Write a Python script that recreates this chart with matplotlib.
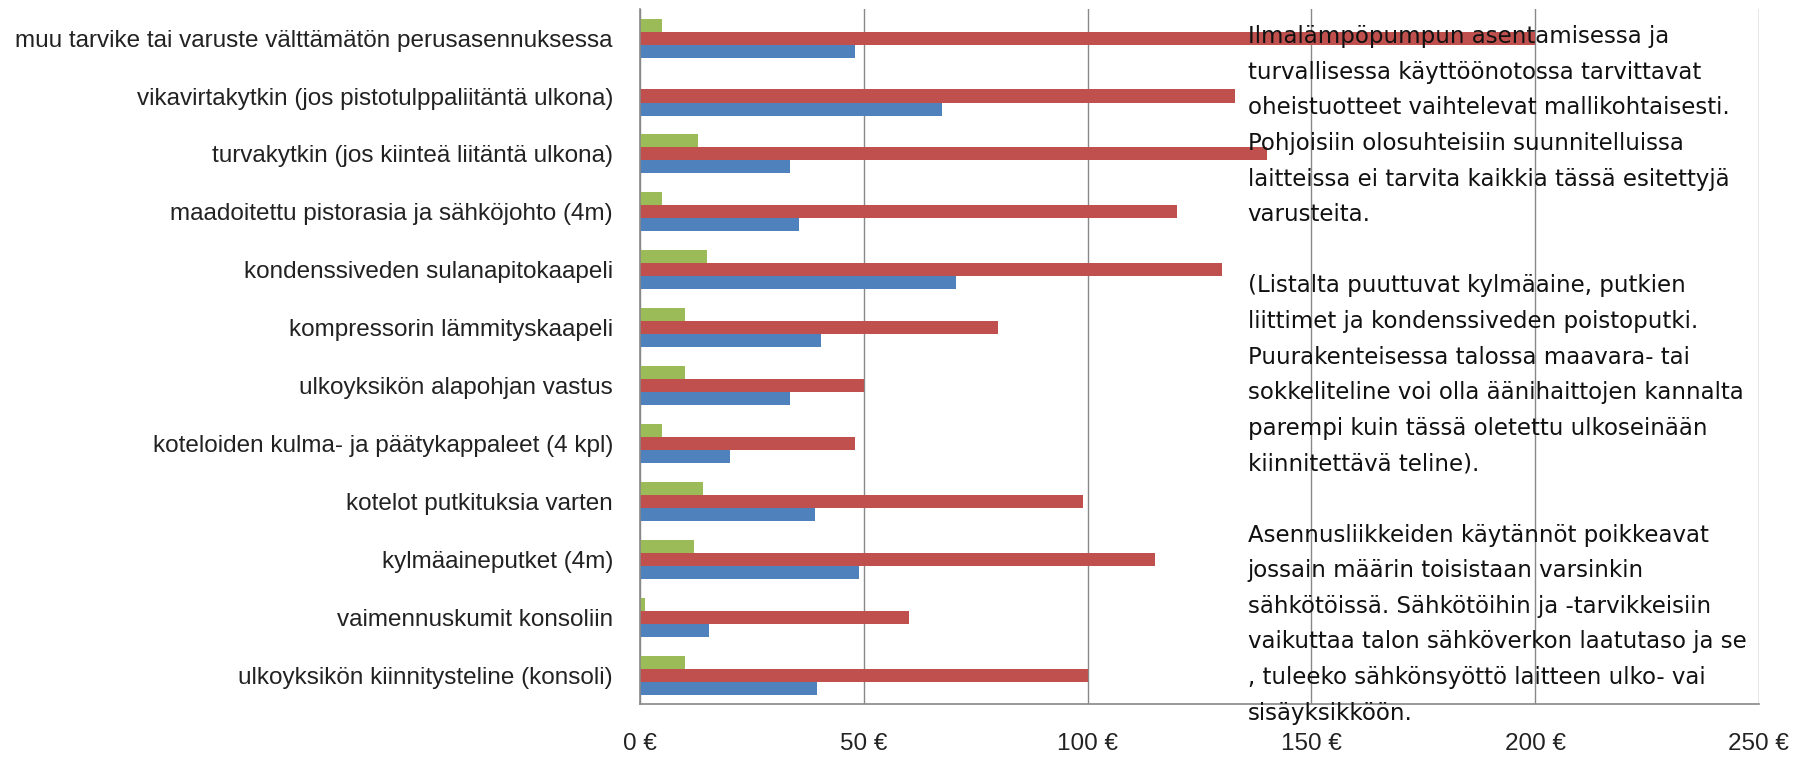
import numpy as np
import matplotlib
matplotlib.use("Agg")
from matplotlib import pyplot as plt
from matplotlib import font_manager

# categories, top to bottom as in the picture
categories = [
    "muu tarvike tai varuste välttämätön perusasennuksessa",
    "vikavirtakytkin (jos pistotulppaliitäntä ulkona)",
    "turvakytkin (jos kiinteä liitäntä ulkona)",
    "maadoitettu pistorasia ja sähköjohto (4m)",
    "kondenssiveden sulanapitokaapeli",
    "kompressorin lämmityskaapeli",
    "ulkoyksikön alapohjan vastus",
    "koteloiden kulma- ja päätykappaleet (4 kpl)",
    "kotelot putkituksia varten",
    "kylmäaineputket (4m)",
    "vaimennuskumit konsoliin",
    "ulkoyksikön kiinnitysteline (konsoli)",
]
blue_vals = [48, 67.5, 33.5, 35.5, 70.5, 40.5, 33.5, 20, 39, 49, 15.5, 39.5]
red_vals = [200, 133, 140, 120, 130, 80, 50, 48, 99, 115, 60, 100]
green_vals = [5, 0, 13, 5, 15, 10, 10, 5, 14, 12, 1, 10]
xticks = [0, 50, 100, 150, 200, 250]

note = ("Ilmalämpöpumpun asentamisessa ja\n"
        "turvallisessa käyttöönotossa tarvittavat\n"
        "oheistuotteet vaihtelevat mallikohtaisesti.\n"
        "Pohjoisiin olosuhteisiin suunnitelluissa\n"
        "laitteissa ei tarvita kaikkia tässä esitettyjä\n"
        "varusteita.\n"
        "\n"
        "(Listalta puuttuvat kylmäaine, putkien\n"
        "liittimet ja kondenssiveden poistoputki.\n"
        "Puurakenteisessa talossa maavara- tai\n"
        "sokkeliteline voi olla äänihaittojen kannalta\n"
        "parempi kuin tässä oletettu ulkoseinään\n"
        "kiinnitettävä teline).\n"
        "\n"
        "Asennusliikkeiden käytännöt poikkeavat\n"
        "jossain määrin toisistaan varsinkin\n"
        "sähkötöissä. Sähkötöihin ja -tarvikkeisiin\n"
        "vaikuttaa talon sähköverkon laatutaso ja se\n"
        ", tuleeko sähkönsyöttö laitteen ulko- vai\n"
        "sisäyksikköön.")

# condensed face for the axis labels if there is one
names = {f.name for f in font_manager.fontManager.ttflist}
if "DejaVu Sans Condensed" in names:
    label_font, label_size = ["DejaVu Sans Condensed", "DejaVu Sans"], 17.5
else:
    label_font, label_size = ["Liberation Sans", "DejaVu Sans"], 17.5

fig = plt.figure(figsize=(18.03, 7.62), dpi=100)
ax = fig.add_axes([0.355, 0.076, 0.6205, 0.912])

n = len(categories)
y = np.arange(n)[::-1]  # first category on top
h = 0.225
ax.barh(y - h, blue_vals, height=h, color="#4F81BD", zorder=2)
ax.barh(y, red_vals, height=h, color="#C0504D", zorder=2)
ax.barh(y + h, green_vals, height=h, color="#9BBB59", zorder=2)

ax.set_ylim(-0.5, n - 0.5)
ax.set_xlim(0, 250)
ax.set_xticks(xticks)
ax.set_xticklabels([f"{v} €" for v in xticks], family=label_font, fontsize=label_size)
ax.set_yticks(y)
ax.set_yticklabels(categories, family=label_font, fontsize=label_size)
ax.tick_params(axis="y", length=0, pad=19.5, colors="#222222")
ax.tick_params(axis="x", length=0, pad=21, colors="#222222")

ax.grid(axis="x", color="#888888", linewidth=1, zorder=0)
for s in ["top", "right"]:
    ax.spines[s].set_visible(False)
for s in ["left", "bottom"]:
    ax.spines[s].set_color("#888888")
    ax.spines[s].set_linewidth(1.2)

fig.text(0.692, 0.967, note, ha="left", va="top", fontsize=16.5,
         family=["DejaVu Sans"], color="#111111", linespacing=1.70, zorder=5)

fig.savefig("out.png", dpi=100)
